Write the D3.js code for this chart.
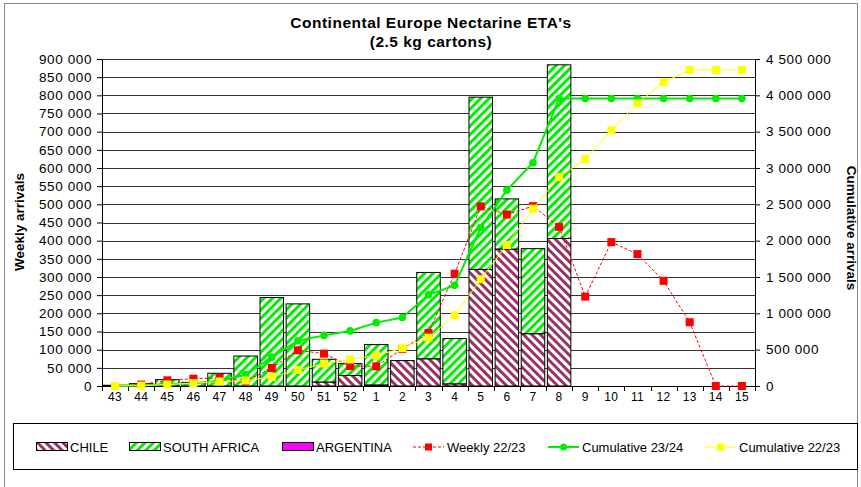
<!DOCTYPE html>
<html>
<head>
<meta charset="utf-8">
<script src="https://cdn.jsdelivr.net/npm/d3@7"></script>
<style>
    body { margin: 0; background: #fff; }
    svg text { font-family: "Liberation Sans", Arial, sans-serif; }
</style>
</head>
<body>
<div id="chart"></div>
<script>
const weeks = ['43', '44', '45', '46', '47', '48', '49', '50', '51', '52',
    '1', '2', '3', '4', '5', '6', '7', '8', '9', '10', '11', '12', '13', '14', '15'];

const chile = [0, 0, 0, 0, 0, 0, 0, 0, 11000, 29000,
    3000, 70000, 75000, 6000, 321000, 377000, 144000, 406000, 0, 0, 0, 0, 0, 0, 0];
const southAfrica = [2000, 6500, 17500, 10000, 35000, 82500, 243500, 226000, 62500, 32500,
    111000, 0, 237500, 124500, 474000, 138000, 234000, 478000, 0, 0, 0, 0, 0, 0, 0];
const argentina = [0, 0, 0, 0, 0, 0, 0, 0, 0, 0,
    0, 0, 0, 0, 0, 0, 0, 0, 0, 0, 0, 0, 0, 0, 0];

const weekly2223 = [0, 4000, 15600, 20000, 22000, 13000, 49600, 98300, 89000, 55000,
    54000, 102000, 146000, 309000, 494500, 472000, 495000, 438000, 246000, 396000,
    363000, 289500, 175500, 0, 0];
const cumulative2324 = [2000, 8500, 26000, 36000, 71000, 153500, 397000, 623000, 696500, 758000,
    872000, 942000, 1254500, 1385000, 2180000, 2695000, 3073000, 3957000, 3957000, 3957000,
    3957000, 3957000, 3957000, 3957000, 3957000];
const cumulative2223 = [0, 5000, 20000, 40000, 60000, 75000, 125000, 220000, 310000, 365000,
    420000, 520000, 665000, 975000, 1470000, 1940000, 2440000, 2875000, 3120000, 3520000,
    3890000, 4180000, 4350000, 4350000, 4350000];

const leftTicks = d3.range(0, 900001, 50000);
const rightTicks = d3.range(0, 4500001, 500000);

const config = {
    width: 861,
    height: 487,
    plot: { left: 102, right: 755, top: 59, bottom: 386 }
};

const spaced = v => d3.format(',')(v).replace(/,/g, ' ');

const svg = d3.select('#chart').append('svg')
    .attr('width', config.width)
    .attr('height', config.height);

// hatch patterns
const defs = svg.append('defs');
const makeHatch = (id, color, angle) => {
    const p = defs.append('pattern')
        .attr('id', id)
        .attr('patternUnits', 'userSpaceOnUse')
        .attr('width', 6).attr('height', 6)
        .attr('patternTransform', 'rotate(' + angle + ')');
    p.append('rect').attr('width', 6).attr('height', 6).attr('fill', '#fff');
    p.append('line')
        .attr('x1', 1.5).attr('y1', 0).attr('x2', 1.5).attr('y2', 6)
        .attr('stroke', color).attr('stroke-width', 3);
};
makeHatch('hatch-chile', '#993366', -45);
makeHatch('hatch-sa', '#00ee00', 45);

// outer frame
svg.append('rect')
    .attr('x', 4.5).attr('y', 3.5)
    .attr('width', 853).attr('height', 490)
    .attr('fill', 'none').attr('stroke', '#888');

const x = d3.scaleBand()
    .domain(weeks)
    .range([config.plot.left, config.plot.right])
    .paddingInner(0.1)
    .paddingOuter(0.05);
const yLeft = d3.scaleLinear()
    .domain([0, 900000])
    .range([config.plot.bottom, config.plot.top]);
const yRight = d3.scaleLinear()
    .domain([0, 4500000])
    .range([config.plot.bottom, config.plot.top]);

// gridlines
svg.append('g')
    .selectAll('line')
    .data(leftTicks.slice(1))
    .enter().append('line')
        .attr('x1', config.plot.left).attr('x2', config.plot.right)
        .attr('y1', d => Math.round(yLeft(d)) + 0.5)
        .attr('y2', d => Math.round(yLeft(d)) + 0.5)
        .attr('stroke', '#333');

// stacked bars
const rows = weeks.map((w, i) => ({
    week: w, chile: chile[i], southAfrica: southAfrica[i], argentina: argentina[i]
}));
const stack = d3.stack().keys(['chile', 'southAfrica', 'argentina'])(rows);
const fills = { chile: 'url(#hatch-chile)', southAfrica: 'url(#hatch-sa)', argentina: '#ff00ff' };

stack.forEach(layer => {
    svg.append('g')
        .selectAll('rect')
        .data(layer.filter(d => d[1] > d[0]))
        .enter().append('rect')
            .attr('x', d => x(d.data.week))
            .attr('width', x.bandwidth())
            .attr('y', d => yLeft(d[1]))
            .attr('height', d => yLeft(d[0]) - yLeft(d[1]))
            .attr('fill', fills[layer.key])
            .attr('stroke', '#000')
            .attr('stroke-width', 1);
});

// axes
const leftAxis = svg.append('g')
    .attr('transform', 'translate(' + config.plot.left + ',0)')
    .call(d3.axisLeft(yLeft).tickValues(leftTicks).tickFormat(spaced)
        .tickSizeOuter(0).tickSize(5).tickPadding(5));
const rightAxis = svg.append('g')
    .attr('transform', 'translate(' + config.plot.right + ',0)')
    .call(d3.axisRight(yRight).tickValues(rightTicks).tickFormat(spaced)
        .tickSizeOuter(0).tickSize(5).tickPadding(6));
const bottomAxis = svg.append('g')
    .attr('transform', 'translate(0,' + config.plot.bottom + ')')
    .call(d3.axisBottom(x).tickSize(0).tickSizeOuter(0).tickPadding(6));

[leftAxis, rightAxis, bottomAxis].forEach(a => {
    a.select('.domain').attr('stroke', '#000');
    a.selectAll('line').attr('stroke', '#000');
    a.selectAll('text').attr('font-size', 13.5).attr('fill', '#000')
        .attr('letter-spacing', 0.6)
        .style('font-family', '"Liberation Sans", Arial, sans-serif');
});
bottomAxis.selectAll('text').attr('font-size', 12).attr('letter-spacing', 0.3);

// x ticks between categories
svg.append('g')
    .selectAll('line')
    .data(d3.range(weeks.length + 1))
    .enter().append('line')
        .attr('x1', i => Math.round(config.plot.left + i * x.step()) + 0.5)
        .attr('x2', i => Math.round(config.plot.left + i * x.step()) + 0.5)
        .attr('y1', config.plot.bottom).attr('y2', config.plot.bottom + 5)
        .attr('stroke', '#000');

// lines
const cx = w => x(w) + x.bandwidth() / 2;
const drawSeries = (values, scale, color, width, dash, marker) => {
    const pts = weeks.map((w, i) => [cx(w), scale(values[i])]);
    svg.append('path')
        .attr('d', d3.line()(pts))
        .attr('fill', 'none')
        .attr('stroke', color)
        .attr('stroke-width', width)
        .attr('stroke-dasharray', dash);
    const g = svg.append('g');
    if (marker === 'circle') {
        g.selectAll('circle').data(pts).enter().append('circle')
            .attr('cx', d => d[0]).attr('cy', d => d[1]).attr('r', 3.8)
            .attr('fill', color);
    } else {
        g.selectAll('rect').data(pts).enter().append('rect')
            .attr('x', d => d[0] - 4).attr('y', d => d[1] - 4)
            .attr('width', 8).attr('height', 8)
            .attr('fill', color);
    }
};
drawSeries(weekly2223, yLeft, '#ff0000', 1, '3,2', 'square');
drawSeries(cumulative2324, yRight, '#00ee00', 2, null, 'circle');
drawSeries(cumulative2223, yRight, '#ffff00', 1, null, 'square');

// titles
svg.append('text')
    .attr('x', 431).attr('y', 28)
    .attr('text-anchor', 'middle')
    .attr('font-size', 15.5).attr('font-weight', 'bold').attr('letter-spacing', 0.5)
    .text("Continental Europe Nectarine ETA's");
svg.append('text')
    .attr('x', 431).attr('y', 47)
    .attr('text-anchor', 'middle')
    .attr('font-size', 15.5).attr('font-weight', 'bold').attr('letter-spacing', 0.5)
    .text('(2.5 kg cartons)');
svg.append('text')
    .attr('transform', 'translate(24,222) rotate(-90)')
    .attr('text-anchor', 'middle')
    .attr('font-size', 13.5).attr('font-weight', 'bold')
    .text('Weekly arrivals');
svg.append('text')
    .attr('transform', 'translate(847,228) rotate(90)')
    .attr('text-anchor', 'middle')
    .attr('font-size', 13.5).attr('font-weight', 'bold')
    .text('Cumulative arrivals');

// legend
const legend = svg.append('g');
legend.append('rect')
    .attr('x', 13.5).attr('y', 423.5)
    .attr('width', 844).attr('height', 46)
    .attr('fill', '#fff').attr('stroke', '#000');

const ly = 447;
const legendItems = [
    { label: 'CHILE', type: 'box', fill: 'url(#hatch-chile)', x: 36 },
    { label: 'SOUTH AFRICA', type: 'box', fill: 'url(#hatch-sa)', x: 129 },
    { label: 'ARGENTINA', type: 'box', fill: '#ff00ff', x: 282 },
    { label: 'Weekly 22/23', type: 'line', color: '#ff0000', dash: '3,2', marker: 'square', x: 413 },
    { label: 'Cumulative 23/24', type: 'line', color: '#00ee00', width: 2, marker: 'circle', x: 548 },
    { label: 'Cumulative 22/23', type: 'line', color: '#ffff00', marker: 'square', x: 705 }
];
legendItems.forEach(it => {
    if (it.type === 'box') {
        legend.append('rect')
            .attr('x', it.x + 0.5).attr('y', ly - 4.5)
            .attr('width', 31).attr('height', 8)
            .attr('fill', it.fill).attr('stroke', '#000');
    } else {
        legend.append('line')
            .attr('x1', it.x).attr('x2', it.x + 31)
            .attr('y1', ly).attr('y2', ly)
            .attr('stroke', it.color).attr('stroke-width', it.width || 1)
            .attr('stroke-dasharray', it.dash || null);
        if (it.marker === 'circle') {
            legend.append('circle').attr('cx', it.x + 15.5).attr('cy', ly).attr('r', 3.5).attr('fill', it.color);
        } else {
            legend.append('rect').attr('x', it.x + 12).attr('y', ly - 3.5)
                .attr('width', 7).attr('height', 7).attr('fill', it.color);
        }
    }
    legend.append('text')
        .attr('x', it.x + 34).attr('y', ly + 4.5)
        .attr('font-size', 13)
        .text(it.label);
});
</script>
</body>
</html>
